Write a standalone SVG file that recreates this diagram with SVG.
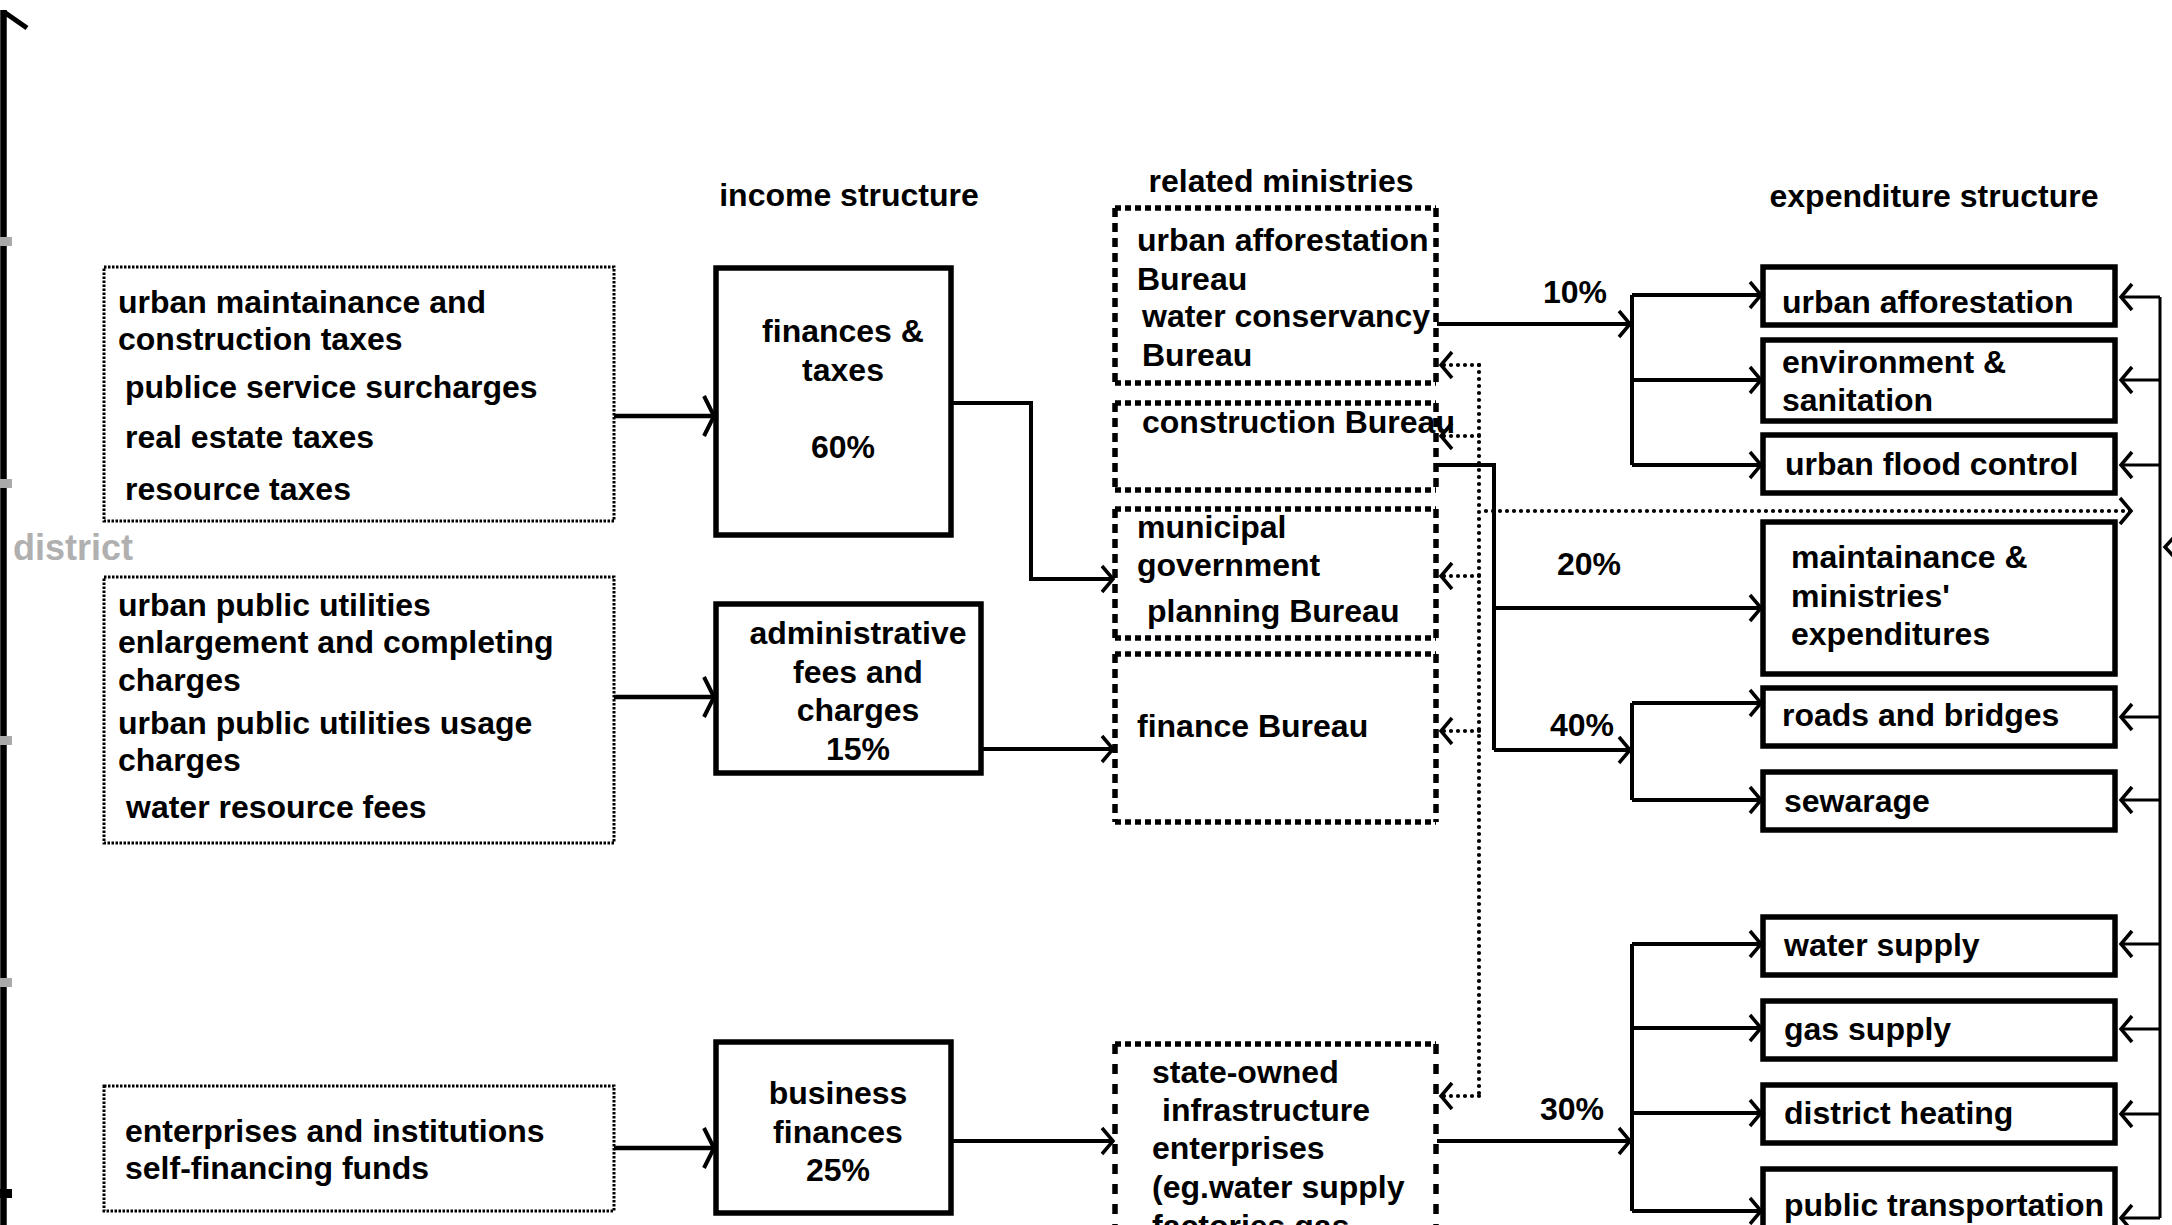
<svg xmlns="http://www.w3.org/2000/svg" width="2172" height="1225" viewBox="0 0 2172 1225">
<style>
.t{font-family:"Liberation Sans",Arial,sans-serif;font-weight:bold;font-size:32px;fill:#000}
.c{text-anchor:middle}
.g{fill:#b0b0b0;font-size:36px}
.src{fill:none;stroke:#000;stroke-width:3;stroke-dasharray:2.5 1.5}
.box{fill:none;stroke:#000;stroke-width:5.5}
.mh{fill:none;stroke:#000;stroke-width:5.5;stroke-dasharray:6 4}
.mv{fill:none;stroke:#000;stroke-width:5.5;stroke-dasharray:9 6}
.ln{fill:none;stroke:#000;stroke-width:4;marker-end:url(#arr)}
.lnb{fill:none;stroke:#000;stroke-width:4.5;marker-end:url(#arrB)}
.lp{fill:none;stroke:#000;stroke-width:4}
.rl{fill:none;stroke:#000;stroke-width:3;marker-end:url(#arr)}
.dl{fill:none;stroke:#000;stroke-width:4.2;stroke-dasharray:0 7;stroke-linecap:round}
.dla{fill:none;stroke:#000;stroke-width:4.2;stroke-dasharray:0 7;stroke-linecap:round;marker-end:url(#arr)}
</style>
<defs>
<marker id="arr" markerUnits="userSpaceOnUse" viewBox="-14 -16 18 32" refX="0" refY="0" markerWidth="18" markerHeight="32" orient="auto" overflow="visible">
<path d="M-11,-13 L0,0 L-11,13" fill="none" stroke="#000" stroke-width="3.5" stroke-dasharray="none"/>
</marker>
<marker id="arrB" markerUnits="userSpaceOnUse" viewBox="-14 -24 18 48" refX="0" refY="0" markerWidth="18" markerHeight="48" orient="auto" overflow="visible">
<path d="M-10,-20 L0,0 L-10,20" fill="none" stroke="#000" stroke-width="4" stroke-dasharray="none"/>
</marker>
</defs>
<rect width="2172" height="1225" fill="#fff"/>

<g id="axis">
<line x1="3.5" y1="10" x2="3.5" y2="1225" stroke="#000" stroke-width="6.5"/>
<line x1="4" y1="12" x2="27" y2="28" stroke="#000" stroke-width="5"/>
<rect x="0" y="237" width="12" height="9" fill="#aaa"/>
<rect x="0" y="479" width="12" height="9" fill="#aaa"/>
<rect x="0" y="736" width="12" height="9" fill="#aaa"/>
<rect x="0" y="978" width="12" height="9" fill="#aaa"/>
<rect x="0" y="1189" width="12" height="9" fill="#000"/>
<text class="t g" x="13" y="560">district</text>
</g>

<g id="headers">
<text class="t c" x="849" y="206">income structure</text>
<text class="t c" x="1281" y="192">related ministries</text>
<text class="t c" x="1934" y="207">expenditure structure</text>
</g>

<g id="src-taxes">
<rect class="src" x="104" y="267" width="510" height="254"/>
<text class="t" x="118" y="313">urban maintainance and</text>
<text class="t" x="118" y="350">construction taxes</text>
<text class="t" x="125" y="398">publice service surcharges</text>
<text class="t" x="125" y="448">real estate taxes</text>
<text class="t" x="125" y="500">resource taxes</text>
</g>
<g id="src-fees">
<rect class="src" x="104" y="577" width="510" height="266"/>
<text class="t" x="118" y="616">urban public utilities</text>
<text class="t" x="118" y="653">enlargement and completing</text>
<text class="t" x="118" y="691">charges</text>
<text class="t" x="118" y="734">urban public utilities usage</text>
<text class="t" x="118" y="771">charges</text>
<text class="t" x="126" y="818">water resource fees</text>
</g>
<g id="src-enterprises">
<rect class="src" x="104" y="1086" width="510" height="125"/>
<text class="t" x="125" y="1142">enterprises and institutions</text>
<text class="t" x="125" y="1179">self-financing funds</text>
</g>

<g id="inc-taxes">
<rect class="box" x="716" y="268" width="235" height="267"/>
<text class="t c" x="843" y="342">finances &amp;</text>
<text class="t c" x="843" y="381">taxes</text>
<text class="t c" x="843" y="458">60%</text>
</g>
<g id="inc-fees">
<rect class="box" x="716" y="604" width="265" height="169"/>
<text class="t c" x="858" y="644">administrative</text>
<text class="t c" x="858" y="683">fees and</text>
<text class="t c" x="858" y="721">charges</text>
<text class="t c" x="858" y="760">15%</text>
</g>
<g id="inc-business">
<rect class="box" x="716" y="1042" width="235" height="171"/>
<text class="t c" x="838" y="1104">business</text>
<text class="t c" x="838" y="1143">finances</text>
<text class="t c" x="838" y="1181">25%</text>
</g>

<g id="min-afforestation">
<path class="mh" d="M1115,208 H1436 M1115,383 H1436"/>
<path class="mv" d="M1115,208 V383 M1436,208 V383"/>
<text class="t" x="1137" y="251">urban afforestation</text>
<text class="t" x="1137" y="290">Bureau</text>
<text class="t" x="1142" y="327">water conservancy</text>
<text class="t" x="1142" y="366">Bureau</text>
</g>
<g id="min-construction">
<path class="mh" d="M1115,403 H1436 M1115,490 H1436"/>
<path class="mv" d="M1115,403 V490 M1436,403 V490"/>
<text class="t" x="1142" y="433">construction Bureau</text>
</g>
<g id="min-planning">
<path class="mh" d="M1115,509 H1436 M1115,638 H1436"/>
<path class="mv" d="M1115,509 V638 M1436,509 V638"/>
<text class="t" x="1137" y="538">municipal</text>
<text class="t" x="1137" y="576">government</text>
<text class="t" x="1147" y="622">planning Bureau</text>
</g>
<g id="min-finance">
<path class="mh" d="M1115,654 H1436 M1115,822 H1436"/>
<path class="mv" d="M1115,654 V822 M1436,654 V822"/>
<text class="t" x="1137" y="737">finance Bureau</text>
</g>
<g id="min-soe">
<path class="mh" d="M1115,1044 H1436"/>
<path class="mv" d="M1115,1044 V1240 M1436,1044 V1240" style="stroke-dasharray:10 10"/>
<text class="t" x="1152" y="1083">state-owned</text>
<text class="t" x="1162" y="1121">infrastructure</text>
<text class="t" x="1152" y="1159">enterprises</text>
<text class="t" x="1152" y="1198">(eg.water supply</text>
<text class="t" x="1152" y="1237">factories,gas</text>
</g>

<g id="exp-afforestation">
<rect class="box" x="1763" y="267" width="352" height="58"/>
<text class="t" x="1782" y="313">urban afforestation</text>
</g>
<g id="exp-environment">
<rect class="box" x="1763" y="340" width="352" height="81"/>
<text class="t" x="1782" y="373">environment &amp;</text>
<text class="t" x="1782" y="411">sanitation</text>
</g>
<g id="exp-flood">
<rect class="box" x="1763" y="435" width="352" height="58"/>
<text class="t" x="1785" y="475">urban flood control</text>
</g>
<g id="exp-maintainance">
<rect class="box" x="1763" y="522" width="352" height="152"/>
<text class="t" x="1791" y="568">maintainance &amp;</text>
<text class="t" x="1791" y="607">ministries'</text>
<text class="t" x="1791" y="645">expenditures</text>
</g>
<g id="exp-roads">
<rect class="box" x="1763" y="688" width="352" height="58"/>
<text class="t" x="1782" y="726">roads and bridges</text>
</g>
<g id="exp-sewerage">
<rect class="box" x="1763" y="772" width="352" height="58"/>
<text class="t" x="1784" y="812">sewarage</text>
</g>
<g id="exp-water">
<rect class="box" x="1763" y="917" width="352" height="58"/>
<text class="t" x="1784" y="956">water supply</text>
</g>
<g id="exp-gas">
<rect class="box" x="1763" y="1001" width="352" height="58"/>
<text class="t" x="1784" y="1040">gas supply</text>
</g>
<g id="exp-heating">
<rect class="box" x="1763" y="1085" width="352" height="58"/>
<text class="t" x="1784" y="1124">district heating</text>
</g>
<g id="exp-transport">
<rect class="box" x="1763" y="1169" width="352" height="70"/>
<text class="t" x="1784" y="1216">public transportation</text>
</g>

<g id="connectors">
<path class="lnb" d="M614,416 H714"/>
<path class="lnb" d="M614,697 H714"/>
<path class="lnb" d="M614,1148 H714"/>
<path class="ln" d="M951,403 H1031 V579 H1113"/>
<path class="ln" d="M981,749 H1113"/>
<path class="ln" d="M951,1141 H1113"/>

<path class="ln" d="M1437,324 H1630"/>
<path class="lp" d="M1632,295 V465"/>
<path class="ln" d="M1632,295 H1761"/>
<path class="ln" d="M1632,380 H1761"/>
<path class="ln" d="M1632,465 H1761"/>

<path class="lp" d="M1437,465 H1494 V750"/>
<path class="ln" d="M1494,608 H1761"/>
<path class="ln" d="M1494,750 H1630"/>
<path class="lp" d="M1632,703 V800"/>
<path class="ln" d="M1632,703 H1761"/>
<path class="ln" d="M1632,800 H1761"/>

<path class="ln" d="M1437,1141 H1630"/>
<path class="lp" d="M1632,944 V1211"/>
<path class="ln" d="M1632,944 H1761"/>
<path class="ln" d="M1632,1028 H1761"/>
<path class="ln" d="M1632,1113 H1761"/>
<path class="ln" d="M1632,1211 H1761"/>

<text class="t" x="1543" y="303">10%</text>
<text class="t" x="1557" y="575">20%</text>
<text class="t" x="1550" y="736">40%</text>
<text class="t" x="1540" y="1120">30%</text>

<path class="dl" d="M1479,365 V1096"/>
<path class="dla" d="M1479,365 H1441"/>
<path class="dla" d="M1479,436 H1441"/>
<path class="dla" d="M1479,576 H1441"/>
<path class="dla" d="M1479,731 H1441"/>
<path class="dla" d="M1479,1096 H1441"/>
<path class="dla" d="M1486,511 H2131"/>

<path d="M2160,297 V1218" fill="none" stroke="#000" stroke-width="3"/>
<path class="rl" d="M2160,297 H2121"/>
<path class="rl" d="M2160,380 H2121"/>
<path class="rl" d="M2160,465 H2121"/>
<path class="rl" d="M2160,717 H2121"/>
<path class="rl" d="M2160,800 H2121"/>
<path class="rl" d="M2160,944 H2121"/>
<path class="rl" d="M2160,1029 H2121"/>
<path class="rl" d="M2160,1114 H2121"/>
<path class="rl" d="M2160,1218 H2121"/>
<path d="M2176,535 L2165,547 L2176,559" fill="none" stroke="#000" stroke-width="3.5"/>
</g>
</svg>
